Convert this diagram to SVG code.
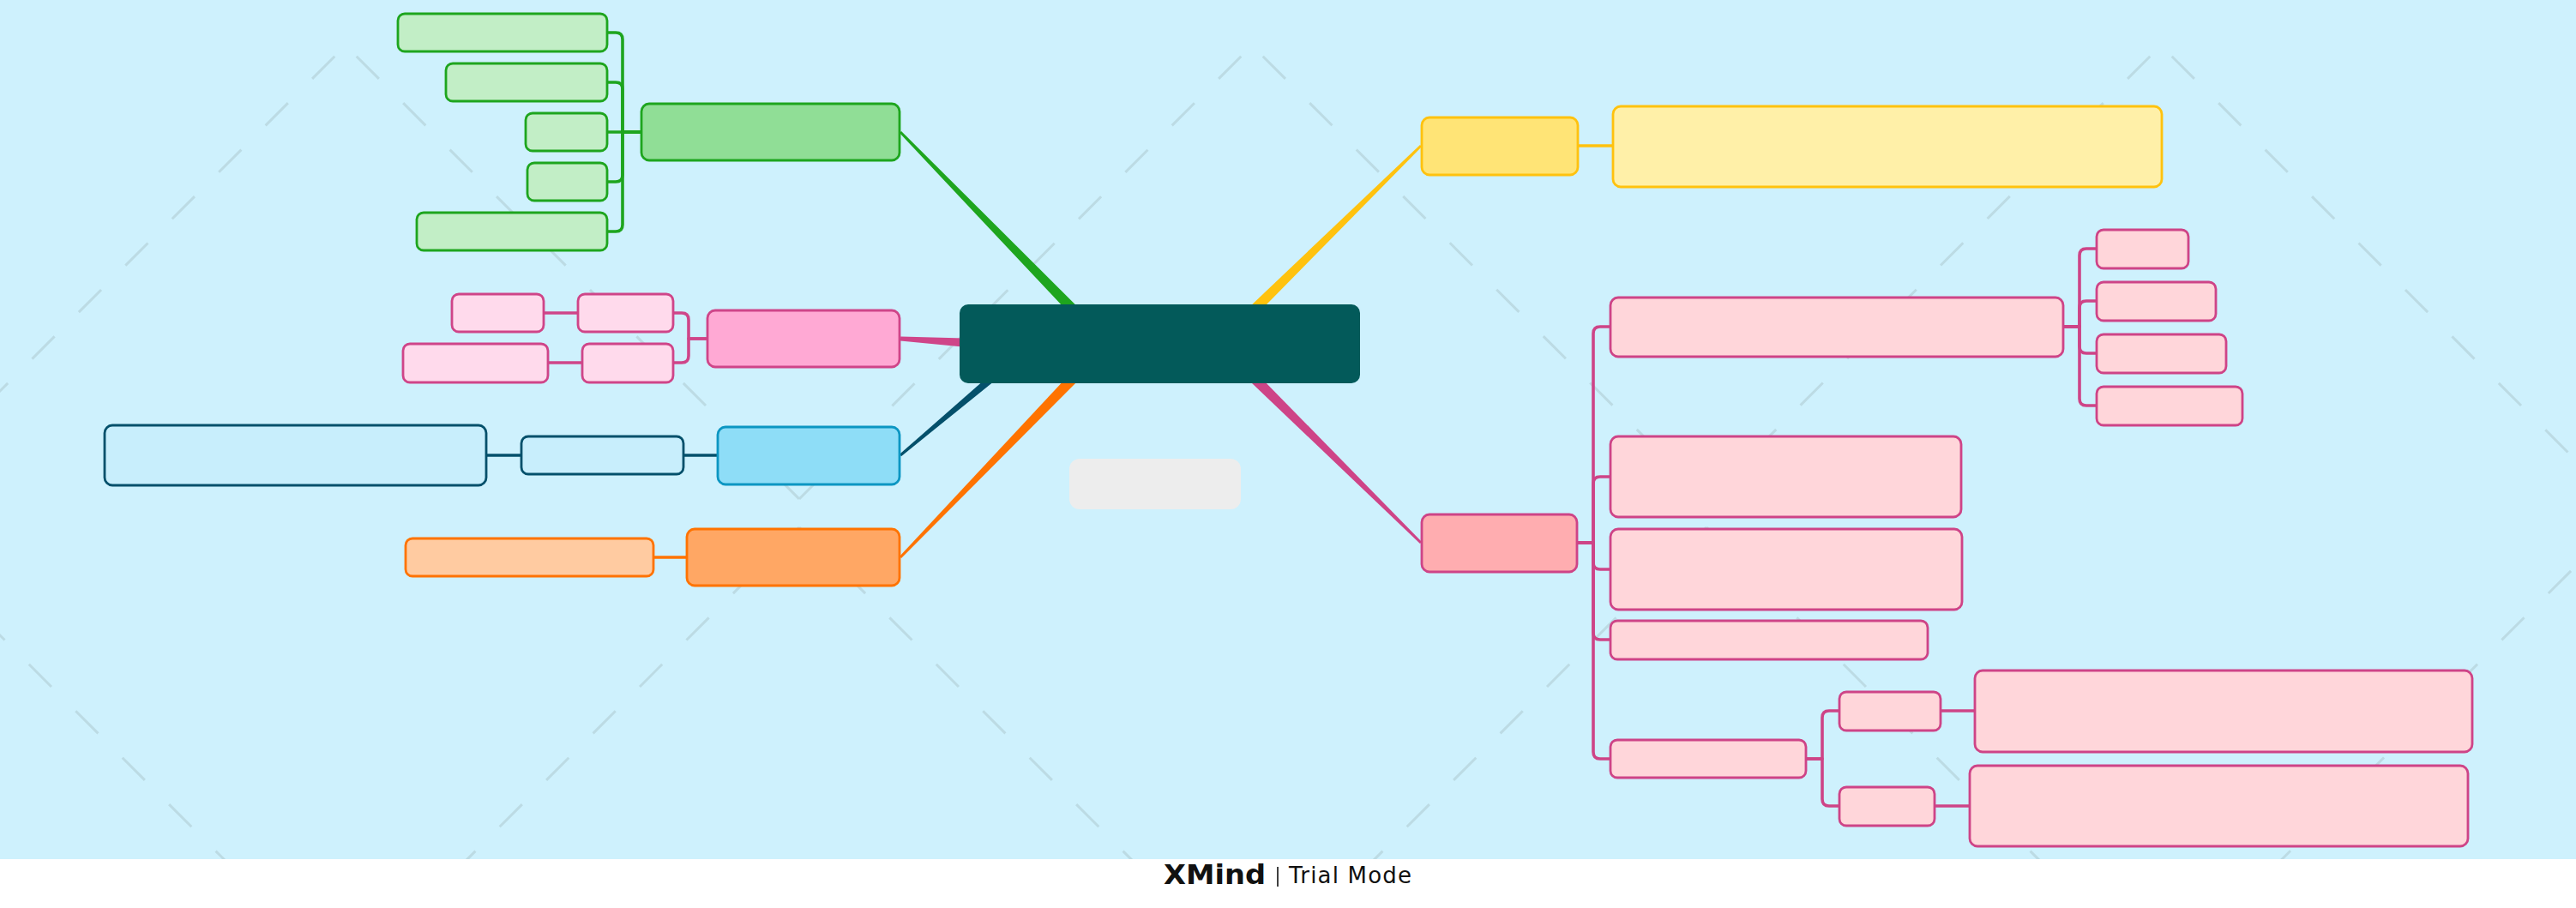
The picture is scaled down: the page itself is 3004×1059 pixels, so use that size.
<svg xmlns="http://www.w3.org/2000/svg" width="3004" height="1059" viewBox="0 0 3004 1059">
<style>
.dash{fill:none;stroke:#BCDBE4;stroke-width:3;stroke-dasharray:37 40}
.top{stroke-dashoffset:59}
.low{stroke-dashoffset:5}
.ln{fill:none;stroke-width:3.6;stroke-linejoin:round}
.nd{stroke-width:2.8}
.gC{stroke:#1EA51E}.pL{stroke:#CF4589}.bD{stroke:#04506B}.oC{stroke:#FF7300}.yC{stroke:#FFC20E}.pR{stroke:#CE4487}
.wm{font-family:'DejaVu Sans','Open Sans',sans-serif;fill:#111}
</style>
<rect x="0" y="0" width="3004" height="1059" fill="#CEF1FD"/>
<g id="background-pattern">
<path class="dash top" d="M403,53 L-126,582"/>
<path class="dash top" d="M403,53 L932,582"/>
<path class="dash top" d="M1460,53 L932,582"/>
<path class="dash top" d="M1460,53 L1990,582"/>
<path class="dash top" d="M2520,53 L1990,582"/>
<path class="dash top" d="M2520,53 L3049,582"/>
<path class="dash low" d="M-126,615 L403,1144"/>
<path class="dash low" d="M932,615 L403,1144"/>
<path class="dash low" d="M932,615 L1461,1144"/>
<path class="dash low" d="M1990,615 L1461,1144"/>
<path class="dash low" d="M1990,615 L2519,1144"/>
<path class="dash low" d="M3049,615 L2519,1144"/>
</g>
<g id="connectors">
<polygon fill="#1EA51E" points="1284.98,405.88 1048.92,155.05 1051.08,152.95 1295.02,396.12"/>
<polygon fill="#FF7300" points="1295.04,405.86 1051.08,651.04 1048.92,648.96 1284.96,396.14"/>
<polygon fill="#FFC20E" points="1426.9,406.0 1658.05,171.07 1655.95,168.93 1417.1,396.0"/>
<polygon fill="#CE4487" points="1417.08,405.98 1655.95,634.07 1658.05,631.93 1426.92,396.02"/>
<polygon fill="#04506B" points="1218.86,396.59 1050.97,532.15 1049.03,529.85 1211.14,387.41"/>
<polygon fill="#CF4589" points="1179.57,409.99 1049.85,397.5 1050.15,392.5 1180.43,396.01"/>
<path class="ln gC" d="M747,154 H709"/>
<path class="ln gC" d="M747,154 H726 V46 Q726,38 718,38 H709"/>
<path class="ln gC" d="M747,154 H726 V104 Q726,96 718,96 H709"/>
<path class="ln gC" d="M747,154 H726 V204 Q726,212 718,212 H709"/>
<path class="ln gC" d="M747,154 H726 V262 Q726,270 718,270 H709"/>
<path class="ln pL" d="M824,395 H803 V373 Q803,365 795,365 H786"/>
<path class="ln pL" d="M824,395 H803 V415 Q803,423 795,423 H786"/>
<path class="ln pL" d="M673,365 H635"/>
<path class="ln pL" d="M678,423 H640"/>
<path class="ln bD" d="M836,531 H798"/>
<path class="ln bD" d="M607,531 H568"/>
<path class="ln oC" d="M800,650 H763"/>
<path class="ln yC" d="M1841,170 H1880"/>
<path class="ln pR" d="M1840,633 H1858 V389 Q1858,381 1866,381 H1877"/>
<path class="ln pR" d="M1840,633 H1858 V564 Q1858,556 1866,556 H1877"/>
<path class="ln pR" d="M1840,633 H1858 V656 Q1858,664 1866,664 H1877"/>
<path class="ln pR" d="M1840,633 H1858 V738 Q1858,746 1866,746 H1877"/>
<path class="ln pR" d="M1840,633 H1858 V877 Q1858,885 1866,885 H1877"/>
<path class="ln pR" d="M2407,381 H2425 V298 Q2425,290 2433,290 H2444"/>
<path class="ln pR" d="M2407,381 H2425 V359 Q2425,351 2433,351 H2444"/>
<path class="ln pR" d="M2407,381 H2425 V404 Q2425,412 2433,412 H2444"/>
<path class="ln pR" d="M2407,381 H2425 V465 Q2425,473 2433,473 H2444"/>
<path class="ln pR" d="M2107,885 H2125 V837 Q2125,829 2133,829 H2144"/>
<path class="ln pR" d="M2107,885 H2125 V932 Q2125,940 2133,940 H2144"/>
<path class="ln pR" d="M2264,829 H2302"/>
<path class="ln pR" d="M2257,940 H2296"/>
</g>
<g id="central"><rect x="1119" y="355" width="467" height="92" rx="10" fill="#035A5A"/></g>
<g id="floating"><rect x="1247" y="535" width="200" height="59" rx="12" fill="#EDEDED"/></g>
<g id="green-main"><rect class="nd gC" x="748" y="121" width="301" height="66" rx="9" fill="#90DE96"/></g>
<g id="green-1"><rect class="nd gC" x="464" y="16" width="244" height="44" rx="8" fill="#C2EEC6"/></g>
<g id="green-2"><rect class="nd gC" x="520" y="74" width="188" height="44" rx="8" fill="#C2EEC6"/></g>
<g id="green-3"><rect class="nd gC" x="613" y="132" width="95" height="44" rx="8" fill="#C2EEC6"/></g>
<g id="green-4"><rect class="nd gC" x="615" y="190" width="93" height="44" rx="8" fill="#C2EEC6"/></g>
<g id="green-5"><rect class="nd gC" x="486" y="248" width="222" height="44" rx="8" fill="#C2EEC6"/></g>
<g id="pinkL-main"><rect class="nd pL" x="825" y="362" width="224" height="66" rx="9" fill="#FFA9D4"/></g>
<g id="pinkL-1"><rect class="nd pL" x="674" y="343" width="111" height="44" rx="8" fill="#FFDAEC"/></g>
<g id="pinkL-2"><rect class="nd pL" x="679" y="401" width="106" height="45" rx="8" fill="#FFDAEC"/></g>
<g id="pinkL-1-1"><rect class="nd pL" x="527" y="343" width="107" height="44" rx="8" fill="#FFDAEC"/></g>
<g id="pinkL-2-1"><rect class="nd pL" x="470" y="401" width="169" height="45" rx="8" fill="#FFDAEC"/></g>
<g id="blue-main"><rect class="nd" x="837" y="498" width="212" height="67" rx="9" fill="#8EDDF7" stroke="#0C96C2"/></g>
<g id="blue-1"><rect class="nd bD" x="608" y="509" width="189" height="44" rx="8" fill="#C8EEFC"/></g>
<g id="blue-1-1"><rect class="nd bD" x="122" y="496" width="445" height="70" rx="9" fill="#C8EEFC"/></g>
<g id="orange-main"><rect class="nd oC" x="801" y="617" width="248" height="66" rx="9" fill="#FFA764"/></g>
<g id="orange-1"><rect class="nd oC" x="473" y="628" width="289" height="44" rx="8" fill="#FFCBA1"/></g>
<g id="yellow-main"><rect class="nd yC" x="1658" y="137" width="182" height="67" rx="9" fill="#FFE476"/></g>
<g id="yellow-1"><rect class="nd yC" x="1881" y="124" width="640" height="94" rx="9" fill="#FFF0A8"/></g>
<g id="pinkR-main"><rect class="nd pR" x="1658" y="600" width="181" height="67" rx="9" fill="#FFADB0"/></g>
<g id="pinkR-1"><rect class="nd pR" x="1878" y="347" width="528" height="69" rx="9" fill="#FFD6DA"/></g>
<g id="pinkR-2"><rect class="nd pR" x="1878" y="509" width="409" height="94" rx="9" fill="#FFD6DA"/></g>
<g id="pinkR-3"><rect class="nd pR" x="1878" y="617" width="410" height="94" rx="9" fill="#FFD6DA"/></g>
<g id="pinkR-4"><rect class="nd pR" x="1878" y="724" width="370" height="45" rx="8" fill="#FFD6DA"/></g>
<g id="pinkR-5"><rect class="nd pR" x="1878" y="863" width="228" height="44" rx="8" fill="#FFD6DA"/></g>
<g id="pinkR-1-1"><rect class="nd pR" x="2445" y="268" width="107" height="45" rx="8" fill="#FFD6DA"/></g>
<g id="pinkR-1-2"><rect class="nd pR" x="2445" y="329" width="139" height="45" rx="8" fill="#FFD6DA"/></g>
<g id="pinkR-1-3"><rect class="nd pR" x="2445" y="390" width="151" height="45" rx="8" fill="#FFD6DA"/></g>
<g id="pinkR-1-4"><rect class="nd pR" x="2445" y="451" width="170" height="45" rx="8" fill="#FFD6DA"/></g>
<g id="pinkR-5-1"><rect class="nd pR" x="2145" y="807" width="118" height="45" rx="8" fill="#FFD6DA"/></g>
<g id="pinkR-5-2"><rect class="nd pR" x="2145" y="918" width="111" height="45" rx="8" fill="#FFD6DA"/></g>
<g id="pinkR-5-1-1"><rect class="nd pR" x="2303" y="782" width="580" height="95" rx="9" fill="#FFD6DA"/></g>
<g id="pinkR-5-2-1"><rect class="nd pR" x="2297" y="893" width="581" height="94" rx="9" fill="#FFD6DA"/></g>
<g id="watermark">
<rect x="0" y="1002" width="3004" height="57" fill="#FFFFFF"/>
<text class="wm" x="1357" y="1031" font-size="32" font-weight="700" textLength="119" lengthAdjust="spacingAndGlyphs">XMind</text>
<line x1="1490" y1="1011" x2="1490" y2="1034" stroke="#111" stroke-width="1.6"/>
<text class="wm" x="1503" y="1030" font-size="26" textLength="143">Trial Mode</text>
</g>
</svg>
